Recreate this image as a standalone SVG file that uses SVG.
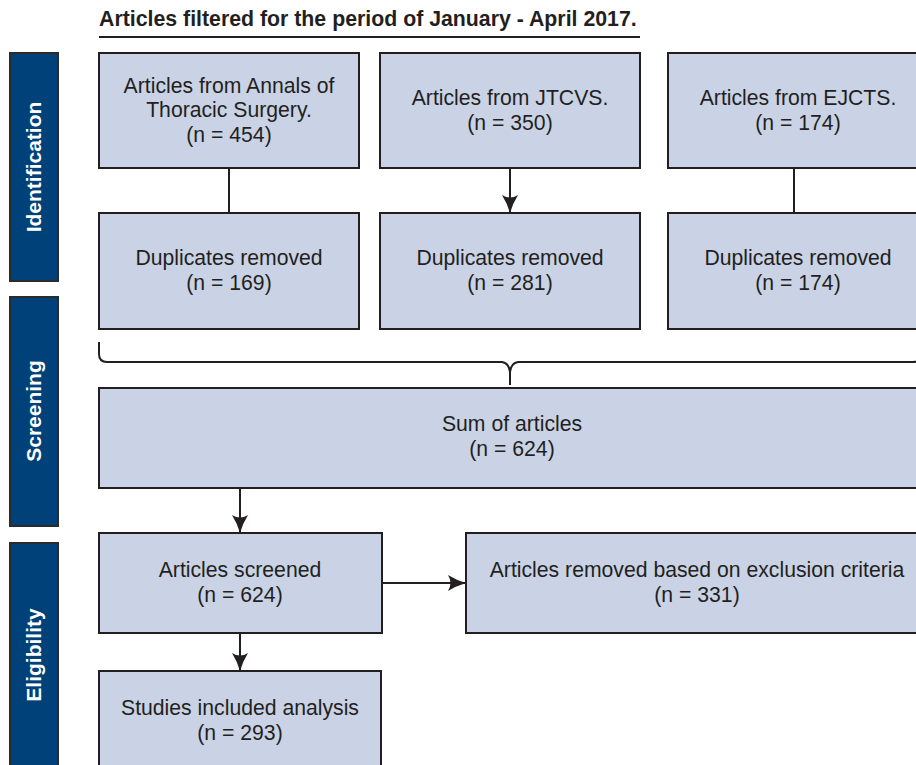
<svg xmlns="http://www.w3.org/2000/svg" width="916" height="765" viewBox="0 0 916 765">
<defs>
<style>
.box{fill:#c9d3e5;stroke:#231f20;stroke-width:2}
.side{fill:#004179;stroke:#2b2b2b;stroke-width:2}
.t{font-family:"Liberation Sans",Arial,sans-serif;font-size:21.2px;fill:#231f20;text-anchor:middle}
.st{font-family:"Liberation Sans",Arial,sans-serif;font-size:21px;font-weight:bold;fill:#ffffff;text-anchor:middle}
.title{font-family:"Liberation Sans",Arial,sans-serif;font-size:21.3px;font-weight:bold;fill:#231f20}
.ln{fill:none;stroke:#231f20;stroke-width:2}
</style>
<marker id="arr" viewBox="0 0 18 18" refX="17" refY="9" markerWidth="18" markerHeight="18" markerUnits="userSpaceOnUse" orient="auto">
<path d="M0,1 Q8,6 18,9 Q8,12 0,17 Q5,9 0,1 Z" fill="#231f20"/>
</marker>
</defs>
<rect width="916" height="765" fill="#ffffff"/>
<g id="title">
<text class="title" x="99" y="26">Articles filtered for the period of January - April 2017.</text>
<line x1="99" y1="37" x2="640" y2="37" stroke="#231f20" stroke-width="2"/>
</g>
<g id="side-identification">
<rect class="side" x="10" y="53" width="48" height="228"/>
<text class="st" transform="translate(41,167) rotate(-90)">Identification</text>
</g>
<g id="side-screening">
<rect class="side" x="10" y="297" width="48" height="229"/>
<text class="st" transform="translate(41,411) rotate(-90)">Screening</text>
</g>
<g id="side-eligibility">
<rect class="side" x="10" y="543" width="48" height="240"/>
<text class="st" transform="translate(41,655) rotate(-90)">Eligibility</text>
</g>
<g id="annals">
<rect class="box" x="99" y="53" width="260" height="115"/>
<text class="t" x="229" y="93">Articles from Annals of</text>
<text class="t" x="229" y="117">Thoracic Surgery.</text>
<text class="t" x="229" y="142">(n = 454)</text>
</g>
<g id="jtcvs">
<rect class="box" x="380" y="53" width="260" height="115"/>
<text class="t" x="510" y="105">Articles from JTCVS.</text>
<text class="t" x="510" y="130">(n = 350)</text>
</g>
<g id="ejcts">
<rect class="box" x="668" y="53" width="260" height="115"/>
<text class="t" x="798" y="105">Articles from EJCTS.</text>
<text class="t" x="798" y="130">(n = 174)</text>
</g>
<g id="dup1">
<rect class="box" x="99" y="213" width="260" height="116"/>
<text class="t" x="229" y="265">Duplicates removed</text>
<text class="t" x="229" y="290">(n = 169)</text>
</g>
<g id="dup2">
<rect class="box" x="380" y="213" width="260" height="116"/>
<text class="t" x="510" y="265">Duplicates removed</text>
<text class="t" x="510" y="290">(n = 281)</text>
</g>
<g id="dup3">
<rect class="box" x="668" y="213" width="260" height="116"/>
<text class="t" x="798" y="265">Duplicates removed</text>
<text class="t" x="798" y="290">(n = 174)</text>
</g>
<g id="sum">
<rect class="box" x="99" y="388" width="822" height="100"/>
<text class="t" x="512" y="431">Sum of articles</text>
<text class="t" x="512" y="456">(n = 624)</text>
</g>
<g id="screened">
<rect class="box" x="99" y="533" width="283" height="100"/>
<text class="t" x="240" y="577">Articles screened</text>
<text class="t" x="240" y="602">(n = 624)</text>
</g>
<g id="excluded">
<rect class="box" x="466" y="533" width="462" height="100"/>
<text class="t" x="697" y="577">Articles removed based on exclusion criteria</text>
<text class="t" x="697" y="602">(n = 331)</text>
</g>
<g id="included">
<rect class="box" x="99" y="671" width="282" height="100"/>
<text class="t" x="240" y="715">Studies included analysis</text>
<text class="t" x="240" y="740">(n = 293)</text>
</g>
<g id="connectors">
<line class="ln" x1="229" y1="168" x2="229" y2="213"/>
<line class="ln" x1="510" y1="168" x2="510" y2="212" marker-end="url(#arr)"/>
<line class="ln" x1="794" y1="168" x2="794" y2="213"/>
<path class="ln" d="M99,342 V354 Q99,362 107,362 H502 Q509,363 510,372 V385"/>
<path class="ln" d="M921,342 V354 Q921,362 913,362 H518 Q511,363 510,372"/>
<line class="ln" x1="240" y1="488" x2="240" y2="532" marker-end="url(#arr)"/>
<line class="ln" x1="382" y1="583" x2="465" y2="583" marker-end="url(#arr)"/>
<line class="ln" x1="240" y1="633" x2="240" y2="670" marker-end="url(#arr)"/>
</g>
</svg>
